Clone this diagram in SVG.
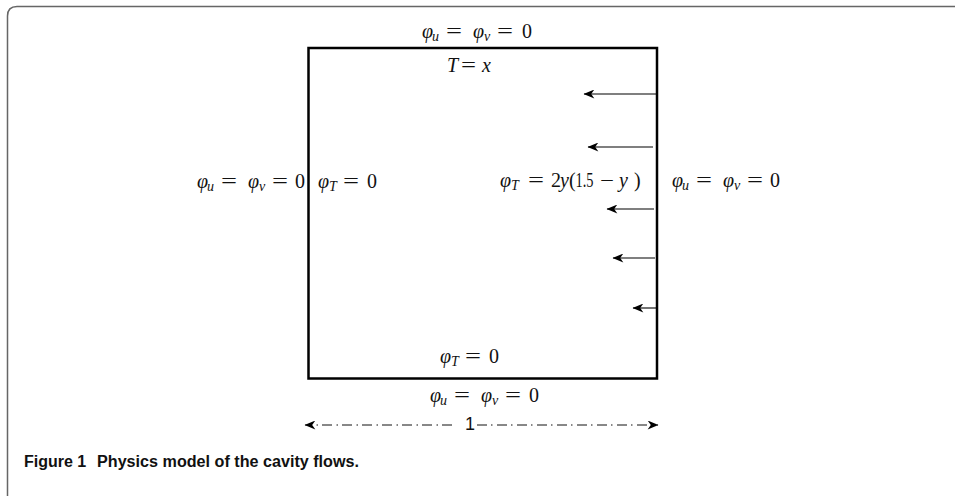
<svg xmlns="http://www.w3.org/2000/svg" width="955" height="496" viewBox="0 0 955 496">
<defs>
<style>
.m{font-family:"Liberation Serif","DejaVu Serif",serif;font-size:20px;fill:#111}
.i{font-style:italic}
.s{font-size:14px;font-style:italic}
.arr{stroke:#000;stroke-width:1.1;fill:none}
.dim{stroke:#111;stroke-width:1;stroke-dasharray:10 4 1.5 4.5;fill:none}
.cap{font-family:"Liberation Sans",Arial,sans-serif;font-weight:bold;font-size:16px;fill:#111}
</style>
<marker id="ah" viewBox="0 0 12 10" refX="11.5" refY="5" markerWidth="12" markerHeight="9" markerUnits="userSpaceOnUse" orient="auto">
<path d="M0,0 L12,5 L0,10 L3.5,5 Z" fill="#000"/>
</marker>
</defs>
<rect width="955" height="496" fill="#fff"/>
<g id="frame">
<path d="M7.5,496 L7.5,16 Q7.5,6.5 17,6.5 L955,6.5" fill="none" stroke="#666" stroke-width="1.5"/>
</g>
<g id="cavity">
<rect x="308.5" y="48" width="348.5" height="330.5" fill="none" stroke="#000" stroke-width="2.5"/>
</g>
<g id="labels">
<text class="m" y="38"><tspan class="i" x="422">φ</tspan><tspan class="s" x="432" dy="3">u</tspan><tspan x="446" dy="-3" textLength="16" lengthAdjust="spacingAndGlyphs">=</tspan><tspan class="i" x="473">φ</tspan><tspan class="s" x="484" dy="3">v</tspan><tspan x="497" dy="-3" textLength="16" lengthAdjust="spacingAndGlyphs">=</tspan><tspan x="522">0</tspan></text>
<text class="m" y="72"><tspan class="i" x="447">T</tspan><tspan x="461" textLength="15" lengthAdjust="spacingAndGlyphs">=</tspan><tspan class="i" x="482">x</tspan></text>
<text class="m" y="188"><tspan class="i" x="197">φ</tspan><tspan class="s" x="207" dy="3">u</tspan><tspan x="221" dy="-3" textLength="16" lengthAdjust="spacingAndGlyphs">=</tspan><tspan class="i" x="248">φ</tspan><tspan class="s" x="259" dy="3">v</tspan><tspan x="272" dy="-3" textLength="16" lengthAdjust="spacingAndGlyphs">=</tspan><tspan x="295">0</tspan></text>
<text class="m" y="188"><tspan class="i" x="318">φ</tspan><tspan class="s" x="329" dy="3">T</tspan><tspan x="343" dy="-3" textLength="16" lengthAdjust="spacingAndGlyphs">=</tspan><tspan x="367">0</tspan></text>
<text class="m" y="187"><tspan class="i" x="500">φ</tspan><tspan class="s" x="511" dy="3">T</tspan><tspan x="528" dy="-3" textLength="16" lengthAdjust="spacingAndGlyphs">=</tspan><tspan x="551">2</tspan><tspan class="i" x="560">y</tspan><tspan x="569">(</tspan><tspan x="575.5" textLength="18" lengthAdjust="spacingAndGlyphs">1.5</tspan><tspan x="600" textLength="14" lengthAdjust="spacingAndGlyphs">−</tspan><tspan class="i" x="619">y</tspan><tspan x="634">)</tspan></text>
<text class="m" y="187"><tspan class="i" x="672">φ</tspan><tspan class="s" x="682" dy="3">u</tspan><tspan x="696" dy="-3" textLength="16" lengthAdjust="spacingAndGlyphs">=</tspan><tspan class="i" x="723">φ</tspan><tspan class="s" x="734" dy="3">v</tspan><tspan x="747" dy="-3" textLength="16" lengthAdjust="spacingAndGlyphs">=</tspan><tspan x="770">0</tspan></text>
<text class="m" y="363"><tspan class="i" x="440">φ</tspan><tspan class="s" x="451" dy="3">T</tspan><tspan x="465" dy="-3" textLength="16" lengthAdjust="spacingAndGlyphs">=</tspan><tspan x="489">0</tspan></text>
<text class="m" y="402"><tspan class="i" x="430">φ</tspan><tspan class="s" x="440" dy="3">u</tspan><tspan x="454" dy="-3" textLength="16" lengthAdjust="spacingAndGlyphs">=</tspan><tspan class="i" x="481">φ</tspan><tspan class="s" x="492" dy="3">v</tspan><tspan x="505" dy="-3" textLength="16" lengthAdjust="spacingAndGlyphs">=</tspan><tspan x="529">0</tspan></text>
</g>
<g id="connectors">
<line class="arr" x1="656" y1="94" x2="584" y2="94" marker-end="url(#ah)"/>
<line class="arr" x1="653" y1="147" x2="588" y2="147" marker-end="url(#ah)"/>
<line class="arr" x1="654" y1="209" x2="607" y2="209" marker-end="url(#ah)"/>
<line class="arr" x1="655" y1="258" x2="613" y2="258" marker-end="url(#ah)"/>
<line class="arr" x1="656" y1="308" x2="633" y2="308" marker-end="url(#ah)"/>
</g>
<g id="dimension">
<line class="dim" x1="452" y1="425" x2="305" y2="425" marker-end="url(#ah)"/>
<line class="dim" x1="477" y1="425" x2="658" y2="425" marker-end="url(#ah)"/>
<text x="470" y="430" text-anchor="middle" font-family="Liberation Sans,Arial,sans-serif" font-size="18" fill="#111">1</text>
</g>
<g id="caption">
<text class="cap" y="467"><tspan x="24">Figure 1</tspan><tspan x="97" textLength="262" lengthAdjust="spacingAndGlyphs">Physics model of the cavity flows.</tspan></text>
</g>
</svg>
